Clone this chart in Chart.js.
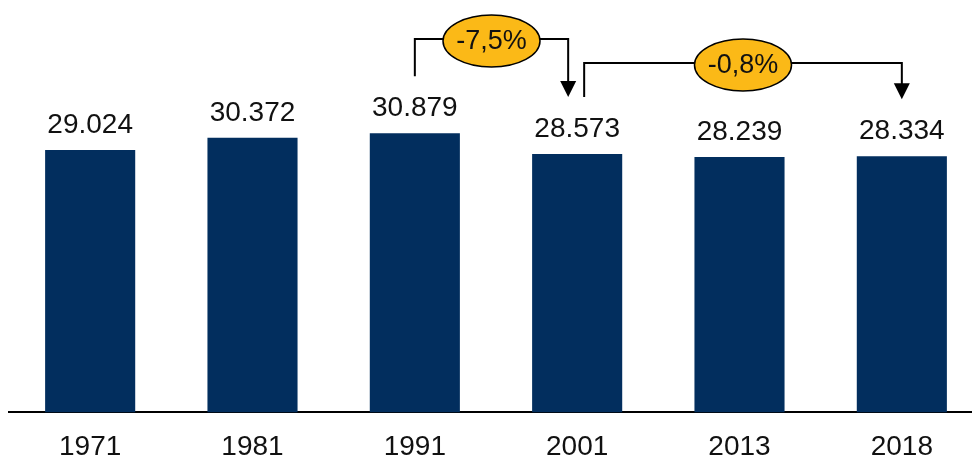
<!DOCTYPE html>
<html>
<head>
<meta charset="utf-8">
<script src="https://cdn.jsdelivr.net/npm/chart.js@4/dist/chart.umd.min.js"></script>
<style>
html,body{margin:0;padding:0;background:#fff;overflow:hidden;}
#wrap{width:984px;height:458px;position:relative;}
</style>
</head>
<body>
<div id="wrap"><canvas id="c"></canvas></div>
<script>
const categories = ['1971', '1981', '1991', '2001', '2013', '2018'];
const values = [29.024, 30.372, 30.879, 28.573, 28.239, 28.334];
const valueLabels = ['29.024', '30.372', '30.879', '28.573', '28.239', '28.334'];
const changeFrom = ['1991', '2001'];
const changeTo = ['2001', '2018'];
const changeLabels = ['-7,5%', '-0,8%'];

const FONT = '"Liberation Sans", Arial, sans-serif';

const labelPlugin = {
  id: 'labels',
  afterDatasetsDraw(chart) {
    const ctx = chart.ctx;
    const meta = chart.getDatasetMeta(0);
    ctx.save();
    ctx.fillStyle = '#111';
    ctx.font = '28px ' + FONT;
    ctx.textAlign = 'center';
    ctx.textBaseline = 'alphabetic';
    meta.data.forEach((bar, i) => {
      ctx.fillText(valueLabels[i], bar.x, bar.y - 17);
    });
    ctx.restore();
  }
};

const bracketPlugin = {
  id: 'brackets',
  afterDraw(chart) {
    const ctx = chart.ctx;
    const meta = chart.getDatasetMeta(0);
    const tops = [39, 63];
    ctx.save();
    changeLabels.forEach((lab, k) => {
      const i0 = categories.indexOf(changeFrom[k]);
      const i1 = categories.indexOf(changeTo[k]);
      const b0 = meta.data[i0], b1 = meta.data[i1];
      const x0 = b0.x + (k === 0 ? 0 : 7);
      const x1 = b1.x + (k === 0 ? -9 : 0);
      const yTop = tops[k];
      const yL = b0.y - 57;
      const yTip = b1.y - 57;
      const headH = 16, headW = 8;
      ctx.strokeStyle = '#000';
      ctx.lineWidth = 2;
      ctx.beginPath();
      ctx.moveTo(x0, yL);
      ctx.lineTo(x0, yTop);
      ctx.lineTo(x1, yTop);
      ctx.lineTo(x1, yTip - headH + 1);
      ctx.stroke();
      ctx.fillStyle = '#000';
      ctx.beginPath();
      ctx.moveTo(x1 - headW, yTip - headH);
      ctx.lineTo(x1 + headW, yTip - headH);
      ctx.lineTo(x1, yTip);
      ctx.closePath();
      ctx.fill();
      // ellipse
      const cx = (x0 + x1) / 2;
      const cy = yTop + 2;
      ctx.beginPath();
      ctx.ellipse(cx, cy, 48.5, 26, 0, 0, Math.PI * 2);
      ctx.fillStyle = '#FBB917';
      ctx.fill();
      ctx.lineWidth = 1.5;
      ctx.stroke();
      ctx.fillStyle = '#111';
      ctx.font = '27px ' + FONT;
      ctx.textAlign = 'center';
      ctx.textBaseline = 'middle';
      ctx.fillText(lab, cx, cy + 1);
    });
    ctx.restore();
  }
};

new Chart(document.getElementById('c'), {
  type: 'bar',
  data: {
    labels: categories,
    datasets: [{
      data: values,
      backgroundColor: '#022E5E',
      borderWidth: 0,
      barPercentage: 0.555,
      categoryPercentage: 1.0
    }]
  },
  options: {
    responsive: true,
    maintainAspectRatio: false,
    animation: false,
    events: [],
    layout: { padding: { left: 9, right: 1, top: 0, bottom: -24 } },
    plugins: { legend: { display: false }, tooltip: { enabled: false } },
    scales: {
      x: {
        grid: { display: false, drawTicks: false },
        border: { display: true, color: '#000', width: 2 },
        ticks: { color: '#111', font: { size: 28, family: FONT }, padding: 18, maxRotation: 0, autoSkip: false }
      },
      y: {
        display: false,
        min: 0,
        max: 45.6
      }
    }
  },
  plugins: [labelPlugin, bracketPlugin]
});
</script>
</body>
</html>
